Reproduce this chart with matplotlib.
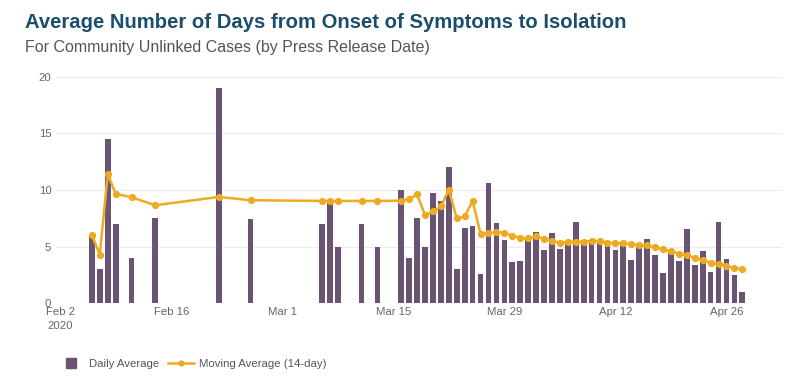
import numpy as np
import matplotlib
matplotlib.use("Agg")
import matplotlib.pyplot as plt
import pandas as pd
from matplotlib.lines import Line2D

plt.rcParams['font.family'] = ['Liberation Sans', 'DejaVu Sans']

# dates with a value (press release dates)
early_dates = ['2020-02-06', '2020-02-07', '2020-02-08', '2020-02-09', '2020-02-11',
               '2020-02-14', '2020-02-22', '2020-02-26', '2020-03-06', '2020-03-07',
               '2020-03-08', '2020-03-11', '2020-03-13']
dates = pd.to_datetime(early_dates).append(pd.date_range('2020-03-16', '2020-04-28'))

daily_avg = [6, 3, 14.5, 7, 4, 7.5, 19, 7.4, 7, 9, 5, 7, 5,
             10, 4, 7.5, 5, 9.7, 9, 12, 3, 6.65, 6.83, 2.58, 10.6, 7.1, 5.55, 3.65, 3.73,
             5.65, 6.26, 4.7, 6.17, 4.78, 5.45, 7.2, 5.45, 5.44, 5.44, 5.06, 4.67, 5.17, 3.82,
             4.94, 5.65, 4.23, 2.71, 4.41, 3.77, 6.52, 3.38, 4.59, 2.76, 7.18, 3.95, 2.47, 0.97]

moving_avg = [6.0, 4.3, 11.4, 9.65, 9.35, 8.65, 9.38, 9.09, 9.03, 9.03, 9.03, 9.03, 9.03,
              9.05, 9.18, 9.6, 7.76, 8.1, 8.55, 10.0, 7.48, 7.66, 9.03, 6.12, 6.2, 6.3, 6.22, 5.97, 5.75,
              5.72, 5.9, 5.67, 5.5, 5.35, 5.44, 5.44, 5.44, 5.5, 5.5, 5.35, 5.3, 5.32, 5.22,
              5.1, 5.1, 4.94, 4.75, 4.58, 4.38, 4.23, 4.0, 3.8, 3.55, 3.45, 3.28, 3.1, 3.0]

tick_dates = pd.to_datetime(['2020-02-02', '2020-02-16', '2020-03-01', '2020-03-15',
                             '2020-03-29', '2020-04-12', '2020-04-26'])
tick_labels = ['Feb 2\n2020', 'Feb 16', 'Mar 1', 'Mar 15', 'Mar 29', 'Apr 12', 'Apr 26']

bar_col = '#6b5374'
line_col = '#eeaa22'
txt_col = '#666666'

fig = plt.figure(figsize=(8, 3.86), dpi=100)
ax = fig.add_axes([0.0694, 0.2143, 0.9081, 0.602])

ax.bar(dates, daily_avg, width=0.72, color=bar_col, zorder=2)
ax.plot(dates, moving_avg, color=line_col, lw=1.8, marker='o', ms=4.2, zorder=3)

ax.set_xlim(pd.Timestamp('2020-02-02') - pd.Timedelta(hours=14),
            pd.Timestamp('2020-04-28') + pd.Timedelta(days=5))
ax.set_ylim(0, 20.5)
ax.set_yticks([0, 5, 10, 15, 20])
ax.set_xticks(tick_dates)
ax.set_xticklabels(tick_labels)
for t in ax.get_xticklabels():
    t.set_linespacing(1.5)
ax.tick_params(axis='both', length=0, labelsize=8.2, colors=txt_col)
ax.tick_params(axis='y', pad=3)
ax.tick_params(axis='x', pad=3)
ax.grid(axis='y', color='#ececec', lw=0.8, zorder=0)
for s in ax.spines.values():
    s.set_visible(False)

fig.text(0.031, 0.941, 'Average Number of Days from Onset of Symptoms to Isolation',
         fontsize=14.6, fontweight='bold', color='#1b4e6d', va='center')
fig.text(0.031, 0.878, 'For Community Unlinked Cases (by Press Release Date)',
         fontsize=11.5, color='#555555', va='center')

handles = [Line2D([], [], color=bar_col, marker='s', ms=7, ls='none'),
           Line2D([], [], color=line_col, lw=1.8, marker='o', ms=3.5)]
fig.legend(handles, ['Daily Average', 'Moving Average (14-day)'],
           loc='center left', bbox_to_anchor=(0.059, 0.057), ncol=2, frameon=False,
           fontsize=8.2, labelcolor='#555555', handlelength=2.3,
           columnspacing=0.7, handletextpad=0.5)

fig.savefig('out.png', dpi=100)
